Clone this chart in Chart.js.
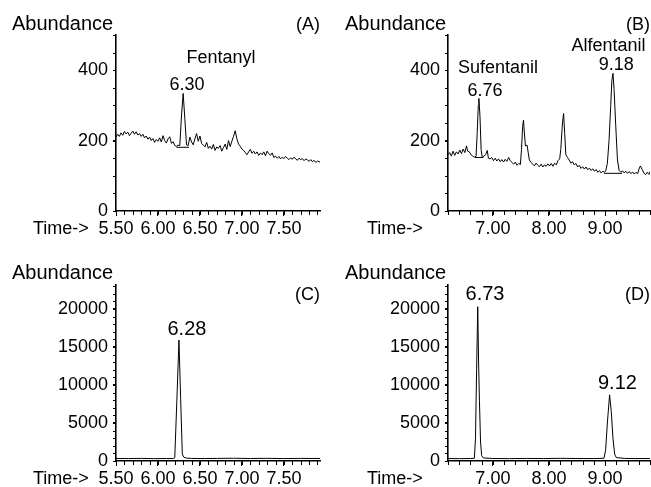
<!DOCTYPE html>
<html>
<head>
<meta charset="utf-8">
<script src="https://cdn.jsdelivr.net/npm/chart.js@4"></script>
<style>
  body { margin: 0; background: #fff; width: 651px; height: 487px; position: relative; overflow: hidden; }
  canvas { position: absolute; }
</style>
</head>
<body>
<canvas id="panelA" width="325" height="240" style="left:0;top:0"></canvas>
<canvas id="panelB" width="326" height="240" style="left:325px;top:0"></canvas>
<canvas id="panelC" width="325" height="247" style="left:0;top:240px"></canvas>
<canvas id="panelD" width="326" height="247" style="left:325px;top:240px"></canvas>
<script>
// tick labels
const timeTicksAC = [5.5, 6.0, 6.5, 7.0, 7.5];
const timeTicksBD = [7, 8, 9];
const abundTicksAB = [0, 200, 400];
const abundTicksCD = [0, 5000, 10000, 15000, 20000];

// (A) Fentanyl, low level
const timeA = [5.50, 5.52, 5.54, 5.56, 5.58, 5.60, 5.62, 5.64, 5.66, 5.68, 5.70, 5.72, 5.74, 5.76, 5.78, 5.80,
  5.82, 5.84, 5.86, 5.88, 5.90, 5.92, 5.94, 5.96, 5.98, 6.00, 6.02, 6.04, 6.06, 6.08, 6.10, 6.12, 6.14, 6.16,
  6.18, 6.20, 6.22, 6.24, 6.26, 6.28, 6.30, 6.32, 6.34, 6.36, 6.38, 6.40, 6.42, 6.44, 6.46, 6.48, 6.50, 6.52,
  6.54, 6.56, 6.58, 6.60, 6.62, 6.64, 6.66, 6.68, 6.70, 6.72, 6.74, 6.76, 6.78, 6.80, 6.82, 6.84, 6.86, 6.88,
  6.90, 6.92, 6.94, 6.96, 6.98, 7.00, 7.02, 7.04, 7.06, 7.08, 7.10, 7.12, 7.14, 7.16, 7.18, 7.20, 7.22, 7.24,
  7.26, 7.28, 7.30, 7.32, 7.34, 7.36, 7.38, 7.40, 7.42, 7.44, 7.46, 7.48, 7.50, 7.52, 7.54, 7.56, 7.58, 7.60,
  7.62, 7.64, 7.66, 7.68, 7.70, 7.72, 7.74, 7.76, 7.78, 7.80, 7.82, 7.84, 7.86, 7.88, 7.90, 7.93];
const abundA = [210, 218, 212, 222, 215, 226, 219, 224, 214, 221, 227, 218, 225, 216, 220, 212,
  218, 208, 213, 204, 210, 200, 206, 195, 203, 198, 208, 196, 214, 200, 193, 205, 211, 192,
  197, 186, 184, 187, 186, 270, 334, 262, 188, 186, 210, 196, 188, 205, 220, 198, 213, 192,
  187, 182, 195, 178, 184, 176, 189, 172, 182, 178, 186, 170, 180, 190, 175, 200, 183, 198,
  212, 228, 205, 190, 184, 176, 172, 166, 160, 168, 175, 164, 170, 162, 168, 158, 165, 160,
  168, 157, 170, 163, 158, 165, 152, 156, 150, 155, 148, 153, 149, 155, 150, 146, 151, 147,
  153, 148, 144, 150, 146, 149, 143, 148, 145, 141, 146, 140, 144, 138, 142, 139];
const baseTimeA = [6.22, 6.37];
const baseAbundA = [181, 181];

// (B) Sufentanil / Alfentanil, low level
const timeB = [6.20, 6.23, 6.26, 6.29, 6.32, 6.35, 6.38, 6.41, 6.44, 6.47, 6.50, 6.53, 6.55, 6.58, 6.61, 6.64,
  6.67, 6.70, 6.72, 6.74, 6.75, 6.77, 6.79, 6.81, 6.84, 6.87, 6.90, 6.92, 6.95, 6.98, 7.01, 7.04, 7.07, 7.10,
  7.13, 7.16, 7.19, 7.22, 7.25, 7.28, 7.31, 7.34, 7.37, 7.40, 7.43, 7.46, 7.49, 7.51, 7.53, 7.545, 7.56, 7.58,
  7.61, 7.63, 7.65, 7.68, 7.71, 7.74, 7.77, 7.80, 7.83, 7.86, 7.89, 7.92, 7.95, 7.98, 8.01, 8.04, 8.07, 8.10,
  8.13, 8.16, 8.19, 8.21, 8.24, 8.26, 8.28, 8.30, 8.33, 8.36, 8.39, 8.42, 8.45, 8.48, 8.51, 8.54, 8.57, 8.60,
  8.63, 8.66, 8.69, 8.72, 8.75, 8.78, 8.81, 8.84, 8.87, 8.90, 8.93, 8.96, 8.99, 9.01, 9.04, 9.07, 9.10, 9.12,
  9.14, 9.16, 9.19, 9.22, 9.25, 9.28, 9.31, 9.34, 9.37, 9.40, 9.43, 9.46, 9.49, 9.52, 9.55, 9.58, 9.61, 9.63,
  9.66, 9.69, 9.72, 9.75, 9.78, 9.80];
const abundB = [160, 166, 156, 170, 158, 168, 162, 173, 163, 176, 166, 185, 170, 168, 160, 156,
  153, 155, 220, 300, 320, 270, 175, 152, 156, 160, 172, 150, 148, 152, 143, 150, 142, 148,
  140, 146, 139, 147, 141, 152, 143, 138, 133, 139, 130, 135, 132, 175, 240, 258, 225, 185,
  187, 165, 145, 138, 133, 128, 136, 130, 126, 133, 125, 131, 127, 134, 128, 135, 127, 136,
  131, 143, 148, 175, 250, 277, 220, 160, 152, 145, 136, 140, 131, 135, 125, 130, 121, 126,
  119, 125, 117, 122, 115, 120, 113, 118, 110, 115, 108, 113, 110, 114, 135, 200, 300, 370,
  391, 345, 240, 145, 115, 110, 114, 108, 113, 107, 112, 106, 111, 105, 110, 106, 122, 128,
  118, 108, 103, 110, 104, 112];
const baseTimeB1 = [6.68, 6.83];
const baseAbundB1 = [152, 152];
const baseTimeB2 = [8.98, 9.30];
const baseAbundB2 = [107, 107];

// (C) Fentanyl, high level
const timeC = [5.50, 5.65, 5.80, 5.95, 6.10, 6.18, 6.20, 6.225, 6.25, 6.27, 6.29, 6.31, 6.34, 6.40, 6.55,
  6.70, 6.90, 7.10, 7.30, 7.50, 7.70, 7.93];
const abundC = [330, 320, 340, 310, 330, 320, 420, 8000, 15900, 8200, 900, 480, 380, 340, 320,
  340, 360, 330, 350, 320, 340, 330];

// (D) Sufentanil / Alfentanil, high level
const timeD = [6.20, 6.40, 6.60, 6.67, 6.69, 6.71, 6.73, 6.745, 6.76, 6.78, 6.80, 6.83, 7.00, 7.30, 7.60,
  7.90, 8.20, 8.50, 8.80, 8.98, 9.01, 9.04, 9.08, 9.11, 9.14, 9.17, 9.20, 9.35, 9.55, 9.80];
const abundD = [320, 310, 330, 350, 3000, 12000, 20300, 13000, 8000, 2500, 700, 400, 330, 310, 340,
  320, 350, 330, 320, 360, 1500, 5000, 8700, 6500, 3000, 900, 450, 340, 320, 330];

const FONT = '"Liberation Sans", Arial, Helvetica, sans-serif';

const toPoints = (ts, vs) => ts.map((t, i) => ({ x: t, y: vs[i] }));

// labels, titles and small minor tick marks drawn on top of the chart
function panelPlugin(p) {
  return {
    id: 'panelExtras',
    afterDraw(chart) {
      const ctx = chart.ctx;
      const xs = chart.scales.x, ys = chart.scales.y;
      const area = chart.chartArea;
      ctx.save();
      ctx.strokeStyle = '#000';
      ctx.lineWidth = 1;
      ctx.beginPath();
      for (let k = 0; p.xMin + k * p.xMinor <= p.xMax + 1e-9; k++) {
        const px = Math.round(xs.getPixelForValue(p.xMin + k * p.xMinor)) + 0.5;
        ctx.moveTo(px, area.bottom);
        ctx.lineTo(px, area.bottom + 4);
      }
      for (let k = 0; k * p.yMinor <= p.yMax + 1e-9; k++) {
        const py = Math.round(ys.getPixelForValue(k * p.yMinor)) + 0.5;
        ctx.moveTo(area.left - 3, py);
        ctx.lineTo(area.left, py);
      }
      ctx.stroke();

      ctx.fillStyle = '#000';
      ctx.textBaseline = 'alphabetic';
      p.texts.forEach(it => {
        ctx.font = it.size + 'px ' + FONT;
        ctx.textAlign = it.align || 'left';
        let x = it.x, y = it.y;
        if (it.t !== undefined) {
          x = xs.getPixelForValue(it.t);
          y = ys.getPixelForValue(it.v);
        }
        ctx.fillText(it.text, x, y);
      });
      ctx.restore();
    }
  };
}

function makePanel(id, p) {
  const datasets = [{ data: toPoints(p.times, p.values) }];
  (p.baselines || []).forEach(b => datasets.push({ data: toPoints(b[0], b[1]) }));
  datasets.forEach(d => Object.assign(d, {
    borderColor: '#000', borderWidth: 1, pointRadius: 0, tension: 0, fill: false
  }));

  return new Chart(document.getElementById(id), {
    type: 'line',
    data: { datasets },
    options: {
      responsive: false,
      animation: false,
      layout: { padding: { top: p.padTop, right: p.padRight, left: 0, bottom: 0 } },
      plugins: { legend: { display: false }, tooltip: { enabled: false } },
      scales: {
        x: {
          type: 'linear',
          min: p.xMin, max: p.xMax,
          afterBuildTicks: s => { s.ticks = p.xTicks.map(v => ({ value: v })); },
          afterFit: s => { s.height = p.xHeight; },
          border: { display: true, color: '#000', width: 1.6 },
          grid: { drawOnChartArea: false, drawTicks: true, tickLength: 5, tickColor: '#000', tickWidth: 1 },
          ticks: {
            autoSkip: false, maxRotation: 0, padding: 2,
            color: '#000', font: { family: FONT, size: 18 },
            callback: v => v.toFixed(2)
          }
        },
        y: {
          min: 0, max: p.yMax,
          afterBuildTicks: s => { s.ticks = p.yTicks.map(v => ({ value: v })); },
          afterFit: s => { s.width = p.yWidth; },
          border: { display: true, color: '#000', width: 1.6 },
          grid: { drawOnChartArea: false, drawTicks: true, tickLength: 3, tickColor: '#000', tickWidth: 1 },
          ticks: {
            autoSkip: false, padding: 5,
            color: '#000', font: { family: FONT, size: 18 },
            callback: v => String(v)
          }
        }
      }
    },
    plugins: [panelPlugin(p)]
  });
}

makePanel('panelA', {
  times: timeA, values: abundA, baselines: [[baseTimeA, baseAbundA]],
  xMin: 5.5, xMax: 7.93, xMinor: 0.1, xTicks: timeTicksAC,
  yMax: 500, yMinor: 50, yTicks: abundTicksAB,
  padTop: 35, padRight: 5, yWidth: 116, xHeight: 29,
  texts: [
    { text: 'Abundance', x: 12, y: 30, size: 20 },
    { text: '(A)', x: 320, y: 30, size: 18, align: 'right' },
    { text: 'Time->', x: 33, y: 234, size: 18 },
    { text: 'Fentanyl', t: 6.75, v: 420, size: 18, align: 'center' },
    { text: '6.30', t: 6.345, v: 344, size: 18, align: 'center' }
  ]
});

makePanel('panelB', {
  times: timeB, values: abundB, baselines: [[baseTimeB1, baseAbundB1], [baseTimeB2, baseAbundB2]],
  xMin: 6.2, xMax: 9.8, xMinor: 0.2, xTicks: timeTicksBD,
  yMax: 500, yMinor: 50, yTicks: abundTicksAB,
  padTop: 35, padRight: 1, yWidth: 123, xHeight: 29,
  texts: [
    { text: 'Abundance', x: 20, y: 30, size: 20 },
    { text: '(B)', x: 325, y: 30, size: 18, align: 'right' },
    { text: 'Time->', x: 42, y: 234, size: 18 },
    { text: 'Sufentanil', t: 7.09, v: 392, size: 18, align: 'center' },
    { text: '6.76', t: 6.86, v: 327, size: 18, align: 'center' },
    { text: 'Alfentanil', t: 9.06, v: 455, size: 18, align: 'center' },
    { text: '9.18', t: 9.20, v: 401, size: 18, align: 'center' }
  ]
});

makePanel('panelC', {
  times: timeC, values: abundC,
  xMin: 5.5, xMax: 7.93, xMinor: 0.1, xTicks: timeTicksAC,
  yMax: 23150, yMinor: 1000, yTicks: abundTicksCD,
  padTop: 45, padRight: 5, yWidth: 116, xHeight: 26,
  texts: [
    { text: 'Abundance', x: 12, y: 39, size: 20 },
    { text: '(C)', x: 320, y: 60, size: 18, align: 'right' },
    { text: 'Time->', x: 33, y: 244, size: 18 },
    { text: '6.28', t: 6.345, v: 16580, size: 20, align: 'center' }
  ]
});

makePanel('panelD', {
  times: timeD, values: abundD,
  xMin: 6.2, xMax: 9.8, xMinor: 0.2, xTicks: timeTicksBD,
  yMax: 23150, yMinor: 1000, yTicks: abundTicksCD,
  padTop: 45, padRight: 1, yWidth: 123, xHeight: 26,
  texts: [
    { text: 'Abundance', x: 20, y: 39, size: 20 },
    { text: '(D)', x: 325, y: 60, size: 18, align: 'right' },
    { text: 'Time->', x: 42, y: 244, size: 18 },
    { text: '6.73', t: 6.86, v: 21180, size: 20, align: 'center' },
    { text: '9.12', t: 9.22, v: 9470, size: 20, align: 'center' }
  ]
});
</script>
</body>
</html>
